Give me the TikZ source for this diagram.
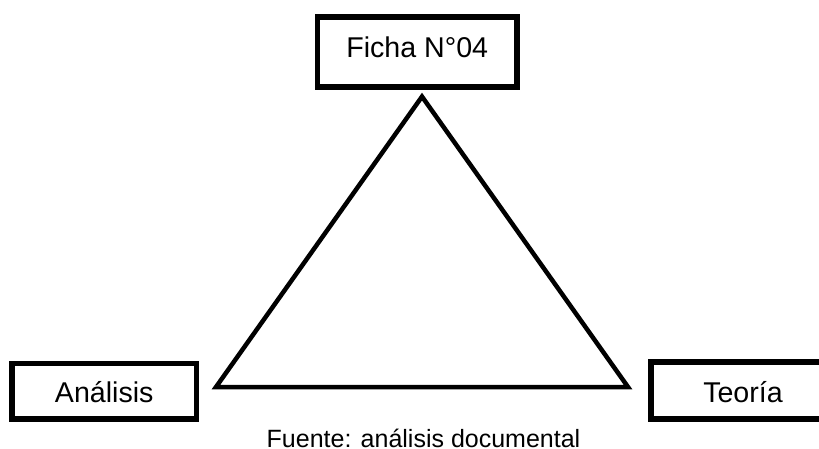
\documentclass[tikz,border=0pt]{standalone}
\usepackage{fontspec}
\setmainfont{Liberation Sans}
\begin{document}
\begin{tikzpicture}[x=1pt,y=-1pt,
  boxnode/.style={draw=black, line width=5.5pt, rectangle, inner sep=0pt,
    font=\fontsize{28.6pt}{30pt}\selectfont, text height=20.5pt},
  tri/.style={draw=black, line width=4.5pt, line join=miter}]
\clip (0,0) rectangle (819,449);
\fill[white] (0,0) rectangle (819,449);
\node[boxnode, minimum width=199.5pt, minimum height=70pt, text depth=9pt] (ficha) at (417.25,52) {Ficha N°04};
\node[boxnode, minimum width=184.5pt, minimum height=55.7pt, text height=23.5pt, text depth=0pt] (analisis) at (104.25,391.2) {Análisis};
\node[boxnode, minimum width=184pt, minimum height=57pt, text height=23.5pt, text depth=0pt] (teoria) at (743,390.5) {Teoría};
\coordinate (apex) at (422,96.6);
\coordinate (bl) at (216,387);
\coordinate (br) at (628,387);
\draw[tri] (apex) -- (bl) -- (br) -- cycle;
\node[anchor=base, inner sep=0pt, font=\fontsize{25pt}{27pt}\selectfont] (fuente) at (423.5,447) {Fuente: análisis documental};
\end{tikzpicture}
\end{document}
